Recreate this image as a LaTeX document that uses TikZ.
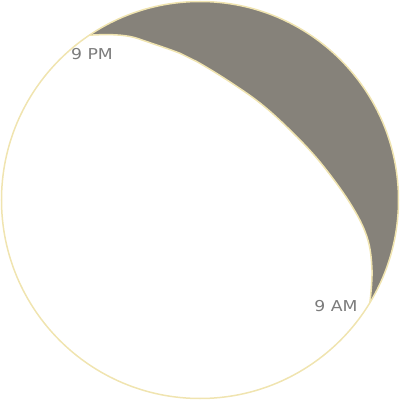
\documentclass[tikz,border=0pt]{standalone}
\usepackage{fontspec}
\setmainfont{DejaVu Sans}
\usetikzlibrary{calc}
\definecolor{nightgray}{HTML}{86827A}
\definecolor{rim}{HTML}{F0E4B0}
\definecolor{lab}{HTML}{7C7C7C}
\tikzset{
  rimline/.style={draw=rim, line width=1.5pt},
  lbl/.style={text=lab, font=\fontsize{15}{17}\selectfont, inner sep=0pt, xscale=1.15}
}
\begin{document}
\begin{tikzpicture}[x=1pt,y=1pt]
\useasboundingbox (0,0) rectangle (400,400);
\coordinate (c) at (200,200);
\fill[nightgray] ($(c)+(123.9:198.5)$) arc[start angle=123.9, end angle=-31.1, radius=198.5]
  -- plot[smooth, tension=0.6] coordinates {(369.9,97.4) (372,130) (367,163) (350,197) (320,238) (290,270) (260,297) (227,320) (197,338.3) (180,346.7) (147,358.3) (130,363.5) (110,365.4) (89.4,364.8)} -- cycle;
\draw[rimline] plot[smooth, tension=0.6] coordinates {(369.9,97.4) (372,130) (367,163) (350,197) (320,238) (290,270) (260,297) (227,320) (197,338.3) (180,346.7) (147,358.3) (130,363.5) (110,365.4) (89.4,364.8)};
\draw[rimline] (c) circle[radius=198.5];
\node[lbl] (pm) at (92,345.5) {9 PM};
\node[lbl] (am) at (336,93.5) {9 AM};
\end{tikzpicture}
\end{document}
